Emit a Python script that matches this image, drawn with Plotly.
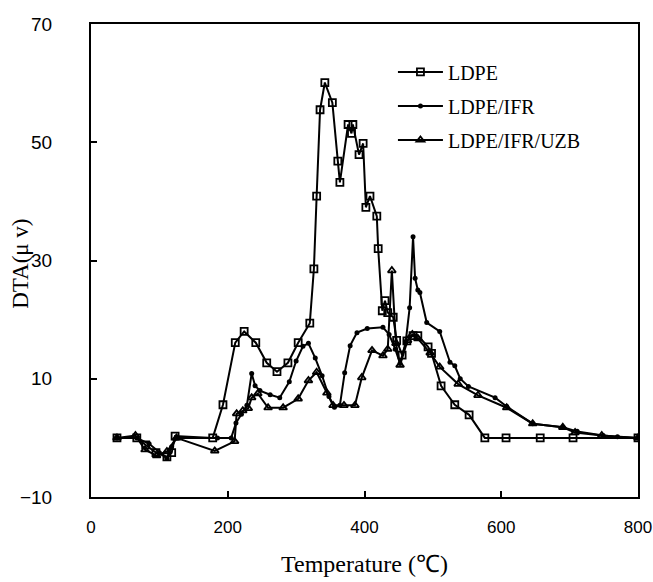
import plotly.graph_objects as go

# ---- data ----
ldpe_x = [38, 67, 80, 95, 111, 118, 123, 178, 193, 211, 224, 241, 257, 272, 288, 303, 320, 326, 330, 335,
          342, 353, 361, 364, 376, 381, 383, 392, 398, 402, 408, 418, 420, 426, 430, 434, 442, 447, 455,
          462, 471, 478, 493, 498, 512, 532, 553, 576, 607, 657, 705, 800]
ldpe_y = [0, 0, -1.2, -2.5, -3.2, -2.5, 0.3, 0, 5.6, 16.1, 18.0, 16.1, 12.7, 11.2, 12.7, 16.1, 19.4, 28.6, 40.9, 55.5,
          60.1, 56.7, 46.8, 43.2, 53.0, 51.5, 53.0, 47.9, 49.8, 39.0, 40.9, 37.5, 32.0, 21.5, 23.2, 21.2, 20.4, 16.5, 14.0,
          16.4, 17.3, 17.3, 15.4, 14.3, 8.8, 5.6, 3.9, 0, 0, 0, 0, 0]

ifr_x = [38, 67, 85, 100, 111, 118, 125, 185, 205, 212, 220, 228, 235, 240, 247, 262, 276, 290, 300, 310,
         318, 328, 338, 348, 356, 364, 371, 379, 389, 404, 427, 436, 445, 452, 460, 466, 471, 474, 478, 481,
         491, 510, 525, 532, 540, 552, 591, 608, 646, 690, 711, 749, 770, 800]
ifr_y = [0, 0, -1, -2.5, -3.5, -1.5, 0, 0, 0, 2.5, 4, 5.5, 10.9, 8.8, 8.0, 7.3, 6.8, 9.5, 13, 15.5,
         16, 13.5, 10.5, 7, 5.2, 5.5, 11, 15.6, 17.8, 18.5, 18.7, 17.5, 15, 12.6, 16, 22, 34, 27, 25, 24.6,
         19.5, 18, 12.8, 12.2, 10, 8.7, 6.8, 5.3, 2.4, 1.8, 1.1, 0.4, 0.2, 0]

uzb_x = [38, 65, 79, 96, 111, 125, 181, 210, 213, 222, 230, 235, 244, 259, 281, 303, 318, 330, 345, 354,
         370, 386, 396, 411, 427, 434, 440, 446, 452, 463, 470, 478, 496, 510, 537, 566, 608, 646, 690, 708,
         747, 800]
uzb_y = [0, 0.4, -2, -3, -2.3, 0, -2.2, -0.6, 4.1, 4.6, 5, 6.8, 7.5, 5.1, 5.1, 6.6, 9.7, 11.1, 7.6, 5.5,
         5.5, 5.5, 10.2, 14.8, 13.9, 15, 28.3, 16, 12.3, 16.5, 17.5, 16.8, 14.4, 12, 9.1, 7.2, 5.1, 2.4, 1.8, 0.9,
         0.4, 0]

series_names = ["LDPE", "LDPE/IFR", "LDPE/IFR/UZB"]
x_ticks = [0, 200, 400, 600, 800]
y_ticks = [-10, 10, 30, 50, 70]
x_title = "Temperature (℃)"
y_title = "DTA(μ v)"

serif = "Liberation Serif"
sans = "Liberation Sans"

fig = go.Figure()
fig.add_trace(go.Scatter(x=ldpe_x, y=ldpe_y, name=series_names[0], mode="lines+markers", legendgroup="a",
                         line=dict(color="black", width=2),
                         marker=dict(symbol="square-open", size=7, color="black", line=dict(width=1.8))))
fig.add_trace(go.Scatter(x=ifr_x, y=ifr_y, name=series_names[1], mode="lines+markers", legendgroup="b",
                         line=dict(color="black", width=2),
                         marker=dict(symbol="circle", size=5, color="black")))
fig.add_trace(go.Scatter(x=uzb_x, y=uzb_y, name=series_names[2], mode="lines+markers", legendgroup="c",
                         line=dict(color="black", width=2),
                         marker=dict(symbol="triangle-up-open", size=7, color="black", line=dict(width=1.8))))

fig.update_layout(
    width=653, height=582,
    margin=dict(l=91, r=15, t=24, b=85, autoexpand=False),
    paper_bgcolor="white", plot_bgcolor="white",
    showlegend=True,
    legend=dict(x=0.552, y=0.94, xanchor="left", yanchor="top", bgcolor="rgba(0,0,0,0)",
                font=dict(family=serif, size=20, color="black"), traceorder="grouped",
                tracegroupgap=5, itemwidth=45),
    xaxis=dict(range=[0, 800], tickvals=x_ticks, ticks="inside", ticklen=6, tickwidth=1.5,
               tickcolor="black", showline=True, linecolor="black", linewidth=2, mirror=True,
               showgrid=False, zeroline=False, ticklabelstandoff=14, automargin=False,
               tickfont=dict(family=sans, size=17, color="black"),
               title=dict(text=x_title, font=dict(family=serif, size=24, color="black"), standoff=19)),
    yaxis=dict(range=[-10, 70], tickvals=y_ticks, ticks="inside", ticklen=6, tickwidth=1.5,
               tickcolor="black", showline=True, linecolor="black", linewidth=2, mirror=True,
               showgrid=False, zeroline=False, ticklabelstandoff=33, automargin=False,
               tickfont=dict(family=sans, size=19, color="black")),
    annotations=[dict(text=y_title, xref="paper", yref="paper", x=-0.128, y=0.493,
                      xanchor="center", yanchor="middle", textangle=-90, showarrow=False,
                      font=dict(family=serif, size=23, color="black"))],
)

fig.write_html("out.html")
